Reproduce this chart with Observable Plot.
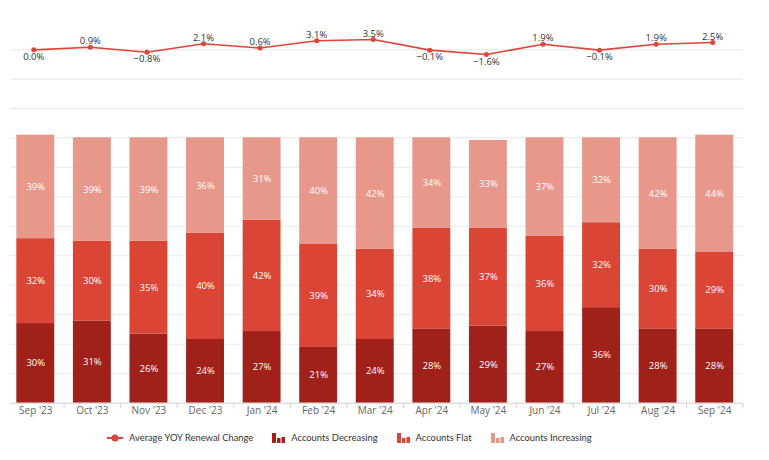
<!DOCTYPE html>
<html>
<head>
<meta charset="utf-8">
<script src="https://cdn.jsdelivr.net/npm/d3@7"></script>
<script src="https://cdn.jsdelivr.net/npm/@observablehq/plot@0.6"></script>
<style>
  html, body { margin: 0; padding: 0; background: #fff; }
  #wrap { position: relative; width: 769px; height: 460px; overflow: hidden; font-family: "Open Sans", sans-serif; }
  #topChart { position: absolute; left: 0; top: 0; }
  #bottomChart { position: absolute; left: 0; top: 115px; }
  #legend { position: absolute; left: 107px; top: 432px; display: flex; align-items: center; font-family: Lato, sans-serif; font-size: 9.4px; color: #333; white-space: nowrap; }
  .item { display: flex; align-items: center; margin-right: 19px; }
  .item svg { margin-right: 6px; }
</style>
</head>
<body>
<div id="wrap">
  <div id="topChart"></div>
  <div id="bottomChart"></div>
  <div id="legend"></div>
</div>
<script>
const months = ["Sep '23","Oct '23","Nov '23","Dec '23","Jan '24","Feb '24","Mar '24","Apr '24","May '24","Jun '24","Jul '24","Aug '24","Sep '24"];
const yoyChange = [0.0, 0.9, -0.8, 2.1, 0.6, 3.1, 3.5, -0.1, -1.6, 1.9, -0.1, 1.9, 2.5];
const decreasing = [30, 31, 26, 24, 27, 21, 24, 28, 29, 27, 36, 28, 28];
const flat = [32, 30, 35, 40, 42, 39, 34, 38, 37, 36, 32, 30, 29];
const increasing = [39, 39, 39, 36, 31, 40, 42, 34, 33, 37, 32, 42, 44];
const seriesNames = ["Accounts Decreasing", "Accounts Flat", "Accounts Increasing"];
const seriesColors = ["#a0201a", "#db4535", "#e8978b"];
const lineName = "Average YOY Renewal Change";
const lineColor = "#e0433a";
const lineTicks = [-20, -10, 0];
const barTicks = d3.range(0, 10).map(i => i * 100 / 9);

const W = 769;
const mL = 7, mR = W - 742.5;
const xScale = {domain: months, paddingInner: 0.33, paddingOuter: 0.165, align: 0.5, round: false, label: null};
const step = (W - mL - mR) / months.length;

const lineData = months.map((m, i) => ({month: m, value: yoyChange[i]}));
const barData = [];
[decreasing, flat, increasing].forEach((arr, s) => {
  arr.forEach((v, i) => barData.push({month: months[i], series: seriesNames[s], value: v}));
});

const fmt = v => (v < 0 ? "\u2212" + Math.abs(v).toFixed(1) : v.toFixed(1)) + "%";

const topPlot = Plot.plot({
  width: W, height: 115,
  marginLeft: mL, marginRight: mR, marginTop: 20, marginBottom: 7,
  x: {...xScale, axis: null},
  y: {domain: [-20, 10], axis: null},
  style: {fontFamily: "Open Sans, sans-serif", background: "transparent"},
  marks: [
    Plot.ruleY(lineTicks, {stroke: "#e6e6e6", strokeWidth: 1, insetLeft: 3}),
    Plot.line(lineData, {x: "month", y: "value", stroke: lineColor, strokeWidth: 1.6, dx: -2}),
    Plot.dot(lineData, {x: "month", y: "value", fill: lineColor, r: 2.5, dx: -2}),
    Plot.text(lineData.filter(d => d.value > 0), {x: "month", y: "value", text: d => fmt(d.value), dx: -2, dy: -6, lineAnchor: "middle", fill: "#333", fontSize: 9.5}),
    Plot.text(lineData.filter(d => d.value <= 0), {x: "month", y: "value", text: d => fmt(d.value), dx: -2, dy: 7, lineAnchor: "middle", fill: "#333", fontSize: 9.5})
  ]
});
document.getElementById("topChart").appendChild(topPlot);

const bottomPlot = Plot.plot({
  width: W, height: 305,
  marginLeft: mL, marginRight: mR, marginTop: 22.3, marginBottom: 17.3,
  x: {...xScale, axis: null},
  y: {domain: [0, 100], axis: null},
  color: {domain: seriesNames, range: seriesColors},
  style: {fontFamily: "Open Sans, sans-serif", background: "transparent"},
  marks: [
    Plot.ruleY(barTicks.slice(1), {stroke: "#e9e9e9", strokeWidth: 1, insetLeft: 3}),
    Plot.barY(barData, {x: "month", y: "value", fill: "series", order: seriesNames}),
    Plot.text(barData, Plot.stackY({x: "month", y: "value", z: "series", order: seriesNames, text: d => d.value + "%", fill: "#fff", fontSize: 9.5, lineAnchor: "middle"})),
    Plot.ruleY([0], {stroke: "#d0d0d0", strokeWidth: 1, insetLeft: 3}),
    Plot.axisX(months.slice(1), {tickSize: 5, tickFormat: () => "", dx: -step / 2, stroke: "#d0d0d0", label: null}),
    Plot.axisX([months[months.length - 1]], {tickSize: 5, tickFormat: () => "", dx: step / 2, stroke: "#d0d0d0", label: null}),
    Plot.axisX({tickSize: 0, tickPadding: 4, fill: "#666", fontSize: 10, label: null})
  ]
});
document.getElementById("bottomChart").appendChild(bottomPlot);

// Legend
const legend = document.getElementById("legend");
function addItem(svg, label) {
  const div = document.createElement("div");
  div.className = "item";
  div.innerHTML = svg + "<span>" + label + "</span>";
  legend.appendChild(div);
}
addItem(`<svg width="16" height="10"><line x1="0" x2="16" y1="5" y2="5" stroke="${lineColor}" stroke-width="2"/><circle cx="8" cy="5" r="3.5" fill="${lineColor}"/></svg>`, lineName);
seriesNames.forEach((name, i) => {
  const c = seriesColors[i];
  addItem(`<svg width="13" height="10"><rect x="0" y="0" width="4" height="10" fill="${c}"/><rect x="5" y="5" width="3.5" height="5" fill="${c}"/><rect x="9.5" y="4" width="3.5" height="6" fill="${c}"/></svg>`, name);
});
</script>
</body>
</html>
